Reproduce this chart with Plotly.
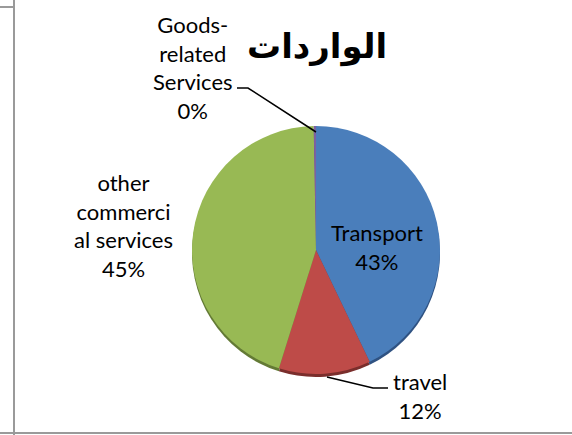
import plotly.graph_objects as go

# Data
categories = ["Transport", "travel", "other commercial services", "Goods-related Services"]
values = [43, 12, 45, 0.3]
wrapped_labels = ["Transport", "travel", "other<br>commerci<br>al services", "Goods-<br>related<br>Services"]
colors = ["#4A7EBB", "#BE4B48", "#98B954", "#7D60A0"]
rim_colors = ["#2F5282", "#7A2E2C", "#637A35", "#4F3C69"]
title_text = "الواردات"

W, H = 572, 435
cx, cy, r = 316, 250, 124

def px(x):
    return x / W

def py(y):
    return 1 - y / H

fig = go.Figure()

# 3D rim (shadow) pie
fig.add_trace(go.Pie(
    labels=categories, values=values, sort=False, direction="clockwise", rotation=0,
    marker=dict(colors=rim_colors, line=dict(width=0)),
    textinfo="none", hoverinfo="skip", showlegend=False,
    domain=dict(x=[px(cx - r), px(cx + r)], y=[py(cy + 3 + r), py(cy + 3 - r)]),
))

fig.add_trace(go.Pie(
    labels=categories, values=values, sort=False, direction="clockwise", rotation=0,
    marker=dict(colors=colors, line=dict(width=0)),
    textinfo="none", showlegend=False,
    domain=dict(x=[px(cx - r), px(cx + r)], y=[py(cy + r), py(cy - r)]),
))

total = sum(values)
pct = [f"{round(v / total * 100)}%" for v in values]

label_pos = [(377, 246.5), (420, 396), (124, 225.5), (193, 67.5)]
font = dict(family="Lato, Calibri, sans-serif", size=22, color="#000000")
for lab, p, (x, y) in zip(wrapped_labels, pct, label_pos):
    fig.add_annotation(x=px(x), y=py(y), xref="paper", yref="paper",
                       text=f"{lab}<br>{p}", showarrow=False, xanchor="center", yanchor="middle",
                       font=font, align="center")

# Title
fig.add_annotation(x=px(317), y=py(46), xref="paper", yref="paper", text=f"<b>{title_text}</b>",
                   showarrow=False, xanchor="center", yanchor="middle",
                   font=dict(family="DejaVu Sans, Arial, sans-serif", size=34, color="#000000"))

# Leader lines
def path(points):
    d = "M " + " L ".join(f"{px(x)},{py(y)}" for x, y in points)
    return d

fig.add_shape(type="path", xref="paper", yref="paper", path=path([(237, 88), (248, 88), (316, 132)]),
              line=dict(color="#000000", width=1.5))
fig.add_shape(type="path", xref="paper", yref="paper", path=path([(327, 377), (373, 388), (388, 388)]),
              line=dict(color="#000000", width=1.5))

# Frame lines
border = dict(color="#9A9A9A", width=2)
fig.add_shape(type="line", xref="paper", yref="paper", x0=px(14), x1=px(14), y0=0, y1=1, line=border)
fig.add_shape(type="line", xref="paper", yref="paper", x0=0, x1=px(14), y0=py(7), y1=py(7), line=border)
fig.add_shape(type="line", xref="paper", yref="paper", x0=0, x1=1, y0=py(433), y1=py(433), line=border)

fig.update_layout(width=W, height=H, margin=dict(l=0, r=0, t=0, b=0),
                  paper_bgcolor="white", plot_bgcolor="white")

fig.write_html("out.html", config={"displayModeBar": False},
               post_script="document.body.style.margin='0';")
